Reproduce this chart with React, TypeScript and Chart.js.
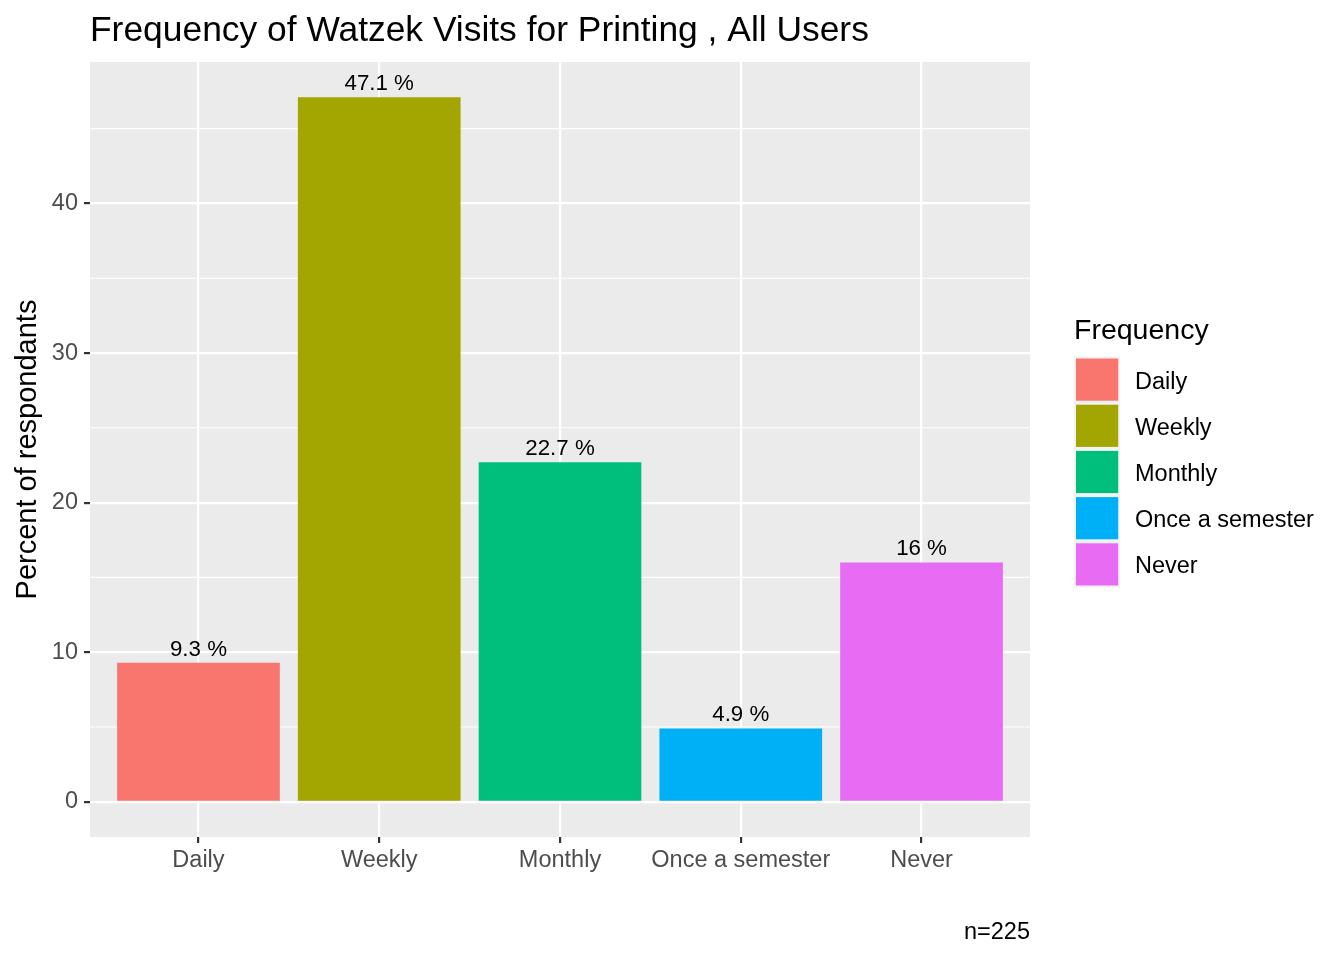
import React, { useEffect, useRef } from "react";
import { Chart, registerables } from "chart.js";

Chart.register(...registerables);

const categories = ["Daily", "Weekly", "Monthly", "Once a semester", "Never"];
const percents = [9.3, 47.1, 22.7, 4.9, 16];
const colors = ["#F8766D", "#A3A500", "#00BF7D", "#00B0F6", "#E76BF3"];
const yMajorTicks = [0, 10, 20, 30, 40];
const yMinorTicks = [5, 15, 25, 35, 45];
const titleText = "Frequency of Watzek Visits for Printing , All Users";
const yTitle = "Percent of respondants";
const legendTitle = "Frequency";
const caption = "n=225";

const FONT = "'Liberation Sans', Arial, sans-serif";

export default function App() {
  const ref = useRef<HTMLCanvasElement | null>(null);

  useEffect(() => {
    const canvas = ref.current;
    if (!canvas) return;

    const decor = {
      id: "ggdecor",
      beforeDraw(chart: any) {
        const { ctx, chartArea } = chart;
        ctx.save();
        ctx.fillStyle = "#FFFFFF";
        ctx.fillRect(0, 0, chart.width, chart.height);
        ctx.fillStyle = "#EBEBEB";
        ctx.fillRect(chartArea.left, chartArea.top, chartArea.right - chartArea.left, chartArea.bottom - chartArea.top);
        ctx.restore();
      },
      beforeDatasetsDraw(chart: any) {
        const { ctx, chartArea, scales } = chart;
        ctx.save();
        ctx.strokeStyle = "#FFFFFF";
        ctx.lineWidth = 1.1;
        for (const v of yMinorTicks) {
          const y = scales.y.getPixelForValue(v);
          ctx.beginPath();
          ctx.moveTo(chartArea.left, y);
          ctx.lineTo(chartArea.right, y);
          ctx.stroke();
        }
        ctx.restore();
      },
      afterDatasetsDraw(chart: any) {
        const { ctx } = chart;
        const meta = chart.getDatasetMeta(0);
        ctx.save();
        ctx.fillStyle = "#000000";
        ctx.font = `22.3px ${FONT}`;
        ctx.textAlign = "center";
        ctx.textBaseline = "alphabetic";
        meta.data.forEach((el: any, i: number) => {
          ctx.fillText(`${percents[i]} %`, el.x, el.y - 7);
        });
        ctx.restore();
      },
      afterDraw(chart: any) {
        const { ctx, chartArea } = chart;
        ctx.save();
        // title
        ctx.fillStyle = "#000000";
        ctx.font = `35.4px ${FONT}`;
        ctx.textAlign = "left";
        ctx.textBaseline = "alphabetic";
        ctx.fillText(titleText, chartArea.left, 41);
        // caption
        ctx.font = `23.5px ${FONT}`;
        ctx.textAlign = "right";
        ctx.fillText(caption, chartArea.right, 939);
        // legend
        const lx = 1074;
        const ly = 356.5;
        const cell = 46.2;
        ctx.textAlign = "left";
        ctx.font = `28.5px ${FONT}`;
        ctx.fillText(legendTitle, lx, 339);
        ctx.fillStyle = "#F2F2F2";
        ctx.fillRect(lx, ly, cell, cell * categories.length);
        ctx.font = `23.5px ${FONT}`;
        ctx.textBaseline = "middle";
        categories.forEach((c, i) => {
          const top = ly + i * cell;
          ctx.fillStyle = colors[i];
          ctx.fillRect(lx + 2, top + 2, cell - 4, cell - 4);
          ctx.fillStyle = "#000000";
          ctx.fillText(c, 1135, top + cell / 2 + 2.5);
        });
        ctx.restore();
      },
    };

    const chart = new Chart(canvas, {
      type: "bar",
      data: {
        datasets: [
          {
            data: percents.map((v, i) => ({ x: i + 1, y: v })),
            backgroundColor: colors,
            borderWidth: 0,
            barPercentage: 0.9,
            categoryPercentage: 1,
          },
        ],
      },
      plugins: [decor],
      options: {
        responsive: false,
        animation: false,
        layout: { padding: { left: 0, right: 314, top: 62, bottom: 63 } },
        plugins: {
          legend: { display: false },
          tooltip: { enabled: false },
          title: { display: false },
        },
        scales: {
          x: {
            type: "linear",
            min: 0.4,
            max: 5.6,
            offset: false,
            afterBuildTicks: (scale: any) => {
              scale.ticks = categories.map((_, i) => ({ value: i + 1 }));
            },
            afterFit: (scale: any) => {
              scale.height = 60;
            },
            ticks: {
              callback: (v: any) => categories[Number(v) - 1] ?? "",
              color: "#4D4D4D",
              font: { family: FONT, size: 23.5 },
              padding: 3,
              maxRotation: 0,
              autoSkip: false,
            },
            grid: {
              offset: false,
              color: "#FFFFFF",
              lineWidth: 2.2,
              tickColor: "#333333",
              tickLength: 6,
              tickWidth: 2.2,
              drawTicks: true,
            },
            border: { display: false },
          },
          y: {
            type: "linear",
            min: -2.355,
            max: 49.455,
            afterBuildTicks: (scale: any) => {
              scale.ticks = yMajorTicks.map((v) => ({ value: v }));
            },
            afterFit: (scale: any) => {
              scale.width = 90;
            },
            ticks: {
              color: "#4D4D4D",
              font: { family: FONT, size: 23.5 },
              padding: 6,
            },
            grid: {
              color: "#FFFFFF",
              lineWidth: 2.2,
              tickColor: "#333333",
              tickLength: 6,
              tickWidth: 2.2,
              drawTicks: true,
            },
            border: { display: false },
            title: {
              display: true,
              text: yTitle,
              color: "#000000",
              font: { family: FONT, size: 29 },
              padding: { top: 11, bottom: 0 },
            },
          },
        },
      },
    } as any);

    return () => chart.destroy();
  }, []);

  return (
    <div style={{ position: "absolute", left: 0, top: 0, width: 1344, height: 960 }}>
      <canvas ref={ref} width={1344} height={960} style={{ width: 1344, height: 960 }} />
    </div>
  );
}
